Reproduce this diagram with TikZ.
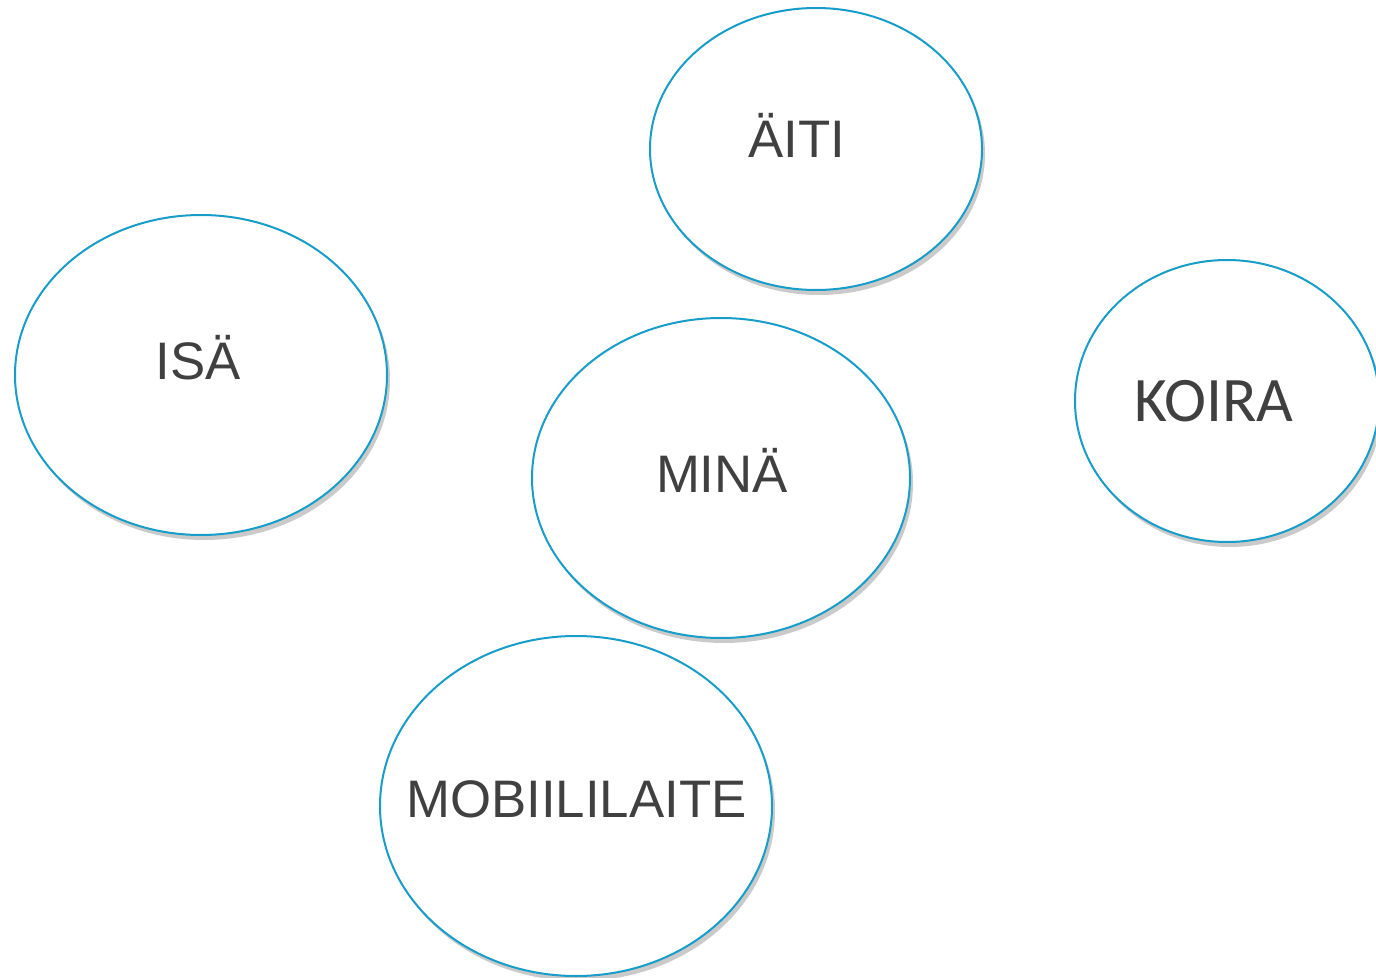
\documentclass[tikz,border=0pt]{standalone}
\usepackage{fontspec}
\setmainfont{Liberation Sans}
\newfontfamily\koirafont{Carlito}
\usetikzlibrary{shapes.geometric,shadows}
\definecolor{pallo}{RGB}{24,157,200}
\definecolor{teksti}{RGB}{64,64,64}
\begin{document}
\begin{tikzpicture}[x=0.5pt,y=-0.5pt,
    pallo/.style={ellipse, draw=pallo, line width=1pt, fill=white, inner sep=0pt,
      drop shadow={shadow xshift=1.5pt, shadow yshift=-2.5pt, opacity=0.35, fill=black!60}},
    nimi/.style={text=teksti, inner sep=0pt, anchor=base, font=\fontsize{26.4}{30}\selectfont}]
          \useasboundingbox (0,0) rectangle (1376,978);
          % Draw the ellipses
          \node[pallo, minimum width=166pt, minimum height=141pt] (aiti) at (816,149) {};
          \node[pallo, minimum width=186pt, minimum height=160pt] (isa) at (201,375) {};
          \node[pallo, minimum width=189pt, minimum height=160pt] (mina) at (721,478) {};
          \node[pallo, minimum width=152pt, minimum height=141pt] (koira) at (1227,401) {};
          \node[pallo, minimum width=196pt, minimum height=170pt] (mobiili) at (576,806) {};

          % Names inside the ellipses (placed on their baselines)
          \node[nimi] (aititeksti) at (797,158) {ÄITI};
          \node[nimi] (isateksti) at (198,380) {ISÄ};
          \node[nimi] (minateksti) at (722,493) {MINÄ};
          \node[nimi, font=\koirafont\fontsize{31.7}{34}\selectfont] (koirateksti) at (1214,422) {KOIRA};
          \node[nimi] (mobiiliteksti) at (576.5,817) {MOBIILILAITE};
        \end{tikzpicture}
\end{document}
